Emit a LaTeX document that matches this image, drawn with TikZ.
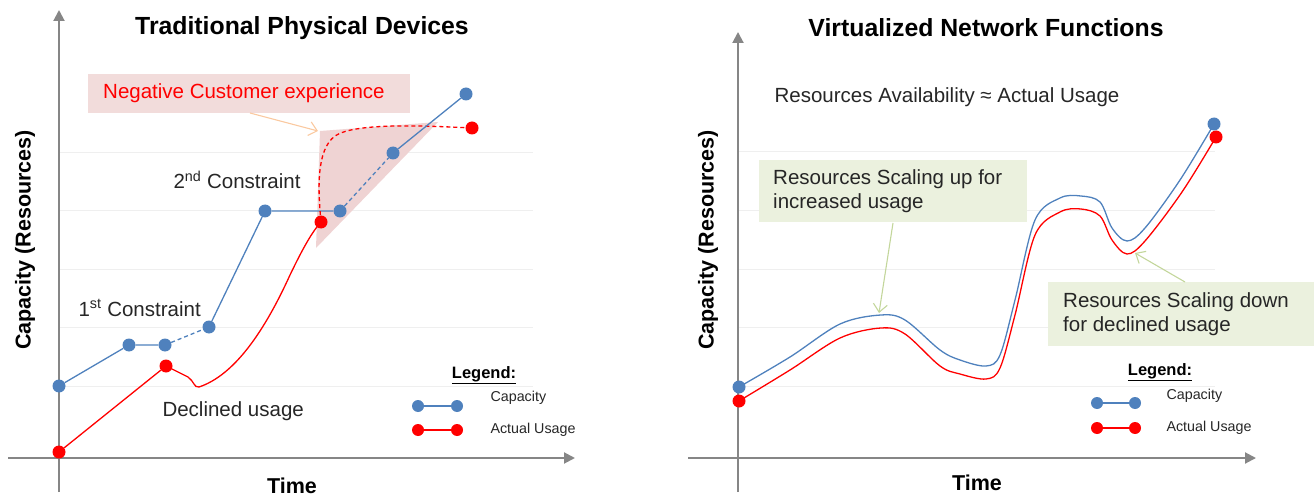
\documentclass[tikz,border=0pt]{standalone}
\usepackage{fontspec}
\setmainfont{Liberation Sans}
\usetikzlibrary{arrows.meta}
\definecolor{cblue}{HTML}{4F81BD}
\definecolor{cred}{HTML}{FF0000}
\definecolor{axisgray}{HTML}{868686}
\definecolor{gridgray}{HTML}{EFEFEF}
\definecolor{pinkbox}{HTML}{F2DCDB}
\definecolor{pinktri}{HTML}{EFD3D3}
\definecolor{greenbox}{HTML}{EBF1DE}
\definecolor{greenarrow}{HTML}{C3D69B}
\definecolor{peacharrow}{HTML}{FAC9A0}
\tikzset{
  axisline/.style={draw=axisgray, line width=2pt, -{Triangle[length=11pt,width=11pt]}},
  gridline/.style={draw=gridgray, line width=1pt},
  bluedot/.style={circle, fill=cblue, inner sep=0pt, minimum size=13pt},
  reddot/.style={circle, fill=cred, inner sep=0pt, minimum size=13pt},
  blueline/.style={draw=cblue, line width=1.3pt},
  redline/.style={draw=cred, line width=1.3pt},
  dashline/.style={dash pattern=on 4pt off 3pt},
  title/.style={font=\fontsize{24.8}{28}\selectfont\bfseries},
  axislabel/.style={font=\fontsize{21.5}{25}\selectfont\bfseries},
  plain/.style={font=\fontsize{20.5}{24}\selectfont, text=black!85},
  legtitle/.style={font=\fontsize{16.5}{19}\selectfont\bfseries},
  legtext/.style={font=\fontsize{14.3}{17}\selectfont, text=black!85, anchor=west},
  callarrow/.style={line width=1.1pt, -{Straight Barb[length=8pt,width=14pt,line width=1.1pt]}},
}
\begin{document}
\begin{tikzpicture}[x=1pt,y=-1pt]
\useasboundingbox (0,0) rectangle (1314,497);
% ================= LEFT PANEL =================
\foreach \yy in {153,211,269,327,386} \draw[gridline] (59,\yy) -- (533,\yy);
% pink triangle
\fill[pinktri] (320,131) -- (438,122) -- (316,248) -- cycle;
% pink box
\node[fill=pinkbox, minimum width=322pt, minimum height=39pt, inner sep=0pt, anchor=north west] (neg) at (88,74) {};
\node[text=cred, font=\fontsize{20.5}{24}\selectfont, anchor=west, inner sep=0pt] (negtext) at (103,93) {Negative Customer experience};
\coordinate (negtip) at (318,131);
\draw[peacharrow, callarrow] (250,113) -- (negtip);
% axes
\coordinate (lyb) at (59,492); \coordinate (lyt) at (59,10);
\coordinate (lxl) at (8,458);  \coordinate (lxr) at (575,458);
\draw[axisline] (lyb) -- (lyt);
\draw[axisline] (lxl) -- (lxr);
% title and axis labels
\node[title] (ltitle) at (302,28) {Traditional Physical Devices};
\node[axislabel, rotate=90] (lylab) at (25,240) {Capacity (Resources)};
\node[axislabel] (lxlab) at (292,486) {Time};
% capacity points
\node[bluedot] (b1) at (59,386) {};
\node[bluedot] (b2) at (129,345) {};
\node[bluedot] (b3) at (165,345) {};
\node[bluedot] (b4) at (209,327) {};
\node[bluedot] (b5) at (265,211) {};
\node[bluedot] (b6) at (340,211) {};
\node[bluedot] (b7) at (393,153) {};
\node[bluedot] (b8) at (466,94) {};
\draw[blueline] (b1) -- (b2) -- (b3);
\draw[blueline, dashline] (b3) -- (b4);
\draw[blueline] (b4) -- (b5) -- (b6);
\draw[blueline, dashline] (b6) -- (b7);
% usage
\node[reddot] (r1) at (59,452) {};
\node[reddot] (r2) at (166,366) {};
\node[reddot] (r3) at (321,222) {};
\node[reddot] (r4) at (472,128) {};
\draw[redline] (r1) -- (r2);
\draw[redline] (r2.center) -- (188,377) .. controls (194,381) and (194,388) .. (199,387)
   .. controls (235,375) and (265,330) .. (290,275) .. controls (303,248) and (312,232) .. (r3.center);
\draw[redline, dashline] (r3.center) .. controls (318,190) and (316,150) .. (335,136)
   .. controls (355,122) and (430,126) .. (r4.center);
\draw[blueline] (b7) -- (b8);
% text labels
\node[plain, anchor=west] (c2) at (170,180) {2\textsuperscript{nd} Constraint};
\node[plain, anchor=west] (c1) at (75,308) {1\textsuperscript{st} Constraint};
\node[plain, anchor=west] (dec) at (159,411) {Declined usage};
% legend
\node[legtitle] (lleg) at (484,375) {\underline{Legend:}};
\node[bluedot, minimum size=12pt] (llb1) at (418,406) {};
\node[bluedot, minimum size=12pt] (llb2) at (457,406) {};
\draw[blueline] (llb1) -- (llb2);
\node[reddot, minimum size=12pt] (llr1) at (418,430) {};
\node[reddot, minimum size=12pt] (llr2) at (457,430) {};
\draw[redline] (llr1) -- (llr2);
\node[legtext] (llcap) at (487,398) {Capacity};
\node[legtext] (llact) at (487,430) {Actual Usage};
% ================= RIGHT PANEL =================
\foreach \yy in {152,211,269,327,386} \draw[gridline] (738,\yy) -- (1215,\yy);
\coordinate (ryb) at (738,492); \coordinate (ryt) at (738,32);
\coordinate (rxl) at (688,458); \coordinate (rxr) at (1256,458);
\draw[axisline] (ryb) -- (ryt);
\draw[axisline] (rxl) -- (rxr);
\node[title] (rtitle) at (986,28) {Virtualized Network Functions};
\node[axislabel, rotate=90] (rylab) at (708,240) {Capacity (Resources)};
\node[axislabel] (rxlab) at (977,483) {Time};
\node[plain] (avail) at (947,97) {Resources Availability ≈ Actual Usage};
% curves
\node[bluedot] (vb1) at (739,387) {};
\node[bluedot] (vb2) at (1214,124) {};
\node[reddot] (vr1) at (739,401) {};
\node[reddot] (vr2) at (1216,137) {};
\draw[blueline] plot[smooth, tension=0.55] coordinates {(739,387) (790,357) (840,324) (881,315) (905,320) (940,350) (960,360) (986,366) (1000,355) (1015,300) (1035,220) (1060,198) (1081,196) (1100,202) (1112,228) (1127,241) (1145,228) (1180,180) (1214,124)};
\draw[redline] plot[smooth, tension=0.55] coordinates {(739,401) (790,370) (840,338) (881,328) (905,334) (940,366) (960,374) (986,379) (1000,368) (1015,315) (1035,235) (1060,212) (1081,209) (1100,216) (1112,240) (1127,254) (1145,241) (1182,192) (1216,137)};
% callouts
\node[fill=greenbox, minimum width=268pt, minimum height=62pt, inner sep=0pt, anchor=north west] (up) at (759,160) {};
\node[plain, align=left, anchor=west, inner sep=0pt, font=\fontsize{20.5}{24}\selectfont] (uptext) at (773,191) {Resources Scaling up for\\increased usage};
\coordinate (uptip) at (879,313);
\draw[greenarrow, callarrow] (893,223) -- (uptip);
\node[fill=greenbox, minimum width=266pt, minimum height=64pt, inner sep=0pt, anchor=north west] (down) at (1048,282) {};
\node[plain, align=left, anchor=west, inner sep=0pt, font=\fontsize{20.5}{24}\selectfont] (downtext) at (1063,314) {Resources Scaling down\\for declined usage};
\coordinate (downtip) at (1135,253);
\draw[greenarrow, callarrow] (1185,282) -- (downtip);
% legend
\node[legtitle] (rleg) at (1160,372) {\underline{Legend:}};
\node[bluedot, minimum size=12pt] (rlb1) at (1097,403) {};
\node[bluedot, minimum size=12pt] (rlb2) at (1135,403) {};
\draw[blueline] (rlb1) -- (rlb2);
\node[reddot, minimum size=12pt] (rlr1) at (1097,428) {};
\node[reddot, minimum size=12pt] (rlr2) at (1135,428) {};
\draw[redline] (rlr1) -- (rlr2);
\node[legtext] (rlcap) at (1163,396) {Capacity};
\node[legtext] (rlact) at (1163,428) {Actual Usage};
\end{tikzpicture}
\end{document}
